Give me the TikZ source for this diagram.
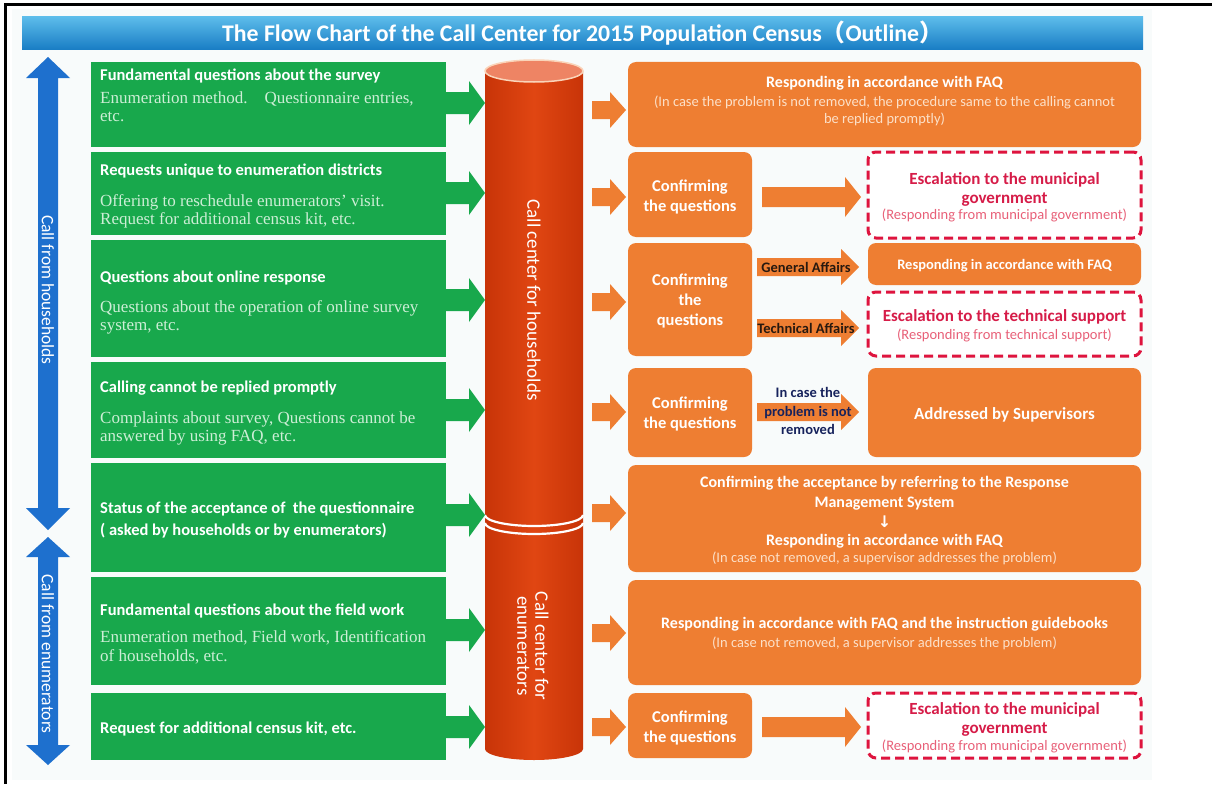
\documentclass[tikz,border=0pt]{standalone}
\usepackage{fontspec}
\setmainfont{Liberation Serif}
\newfontfamily\carl{Carlito}
\newfontfamily\cjk{Noto Sans CJK SC}
\newfontfamily\dvs{DejaVu Sans}
\usetikzlibrary{calc}
\definecolor{grn}{RGB}{24,168,76}
\definecolor{grnt}{RGB}{205,238,214}
\definecolor{org}{RGB}{238,126,50}
\definecolor{orgt}{RGB}{252,224,200}
\definecolor{dred}{RGB}{222,20,62}
\definecolor{redt}{RGB}{214,28,72}
\definecolor{redsub}{RGB}{232,96,120}
\definecolor{blu}{RGB}{30,112,206}
\definecolor{navy}{RGB}{22,34,92}
\definecolor{labc}{RGB}{40,25,15}
\definecolor{cylM}{RGB}{224,70,18}
\definecolor{cylD}{RGB}{200,52,8}
\definecolor{cylT}{RGB}{238,132,100}
\definecolor{cylE}{RGB}{250,212,185}
\definecolor{ttla}{RGB}{92,188,234}
\definecolor{ttlb}{RGB}{24,124,196}
\definecolor{bgc}{RGB}{248,251,251}
\newcommand\blockarr[6]{\fill[#1] ($(#2)+(0,#4)$) -- ($(#3)+(-#6,#4)$) -- ($(#3)+(-#6,#5)$) -- (#3) -- ($(#3)+(-#6,-#5)$) -- ($(#3)+(-#6,-#4)$) -- ($(#2)+(0,-#4)$) -- cycle;}
\begin{document}
\begin{tikzpicture}[x=1pt,y=-1pt,
  gbox/.style={fill=grn, draw=none, inner sep=0pt, outer sep=0pt, anchor=north west, minimum width=355pt},
  obox/.style={fill=org, draw=none, rounded corners=8pt, inner sep=0pt, outer sep=0pt, anchor=north west},
  rbox/.style={draw=dred, fill=white, line width=3pt, dash pattern=on 9pt off 5pt, rounded corners=8pt, inner sep=0pt, outer sep=0pt, anchor=north west},
  ghead/.style={font=\carl\bfseries\fontsize{16.5}{19}\selectfont, text=white, anchor=base west, inner sep=0pt},
  gbody/.style={font=\fontsize{17}{19}\selectfont, text=grnt, anchor=base west, inner sep=0pt},
  omain/.style={font=\carl\bfseries\fontsize{16}{19}\selectfont, text=white, anchor=base, inner sep=0pt},
  osub/.style={font=\carl\fontsize{14.5}{17}\selectfont, text=orgt, anchor=base, inner sep=0pt},
  rmain/.style={font=\carl\bfseries\fontsize{17}{20}\selectfont, text=redt, anchor=base, inner sep=0pt},
  rsub/.style={font=\carl\fontsize{14.5}{17}\selectfont, text=redsub, anchor=base, inner sep=0pt},
  cq/.style={font=\carl\bfseries\fontsize{16.5}{20}\selectfont, text=white, anchor=base, inner sep=0pt},
  lab/.style={font=\carl\bfseries\fontsize{14.5}{18}\selectfont, text=labc, anchor=base, inner sep=0pt},
  vtext/.style={font=\carl\fontsize{17.5}{20}\selectfont, text=white, rotate=-90, inner sep=0pt, align=center},
]
\useasboundingbox (0,0) rectangle (1212,784);
\fill[white] (0,0) rectangle (1212,784);
\fill[bgc] (12,9) rectangle (1152,780);
\draw[line width=3pt] (4,5) -- (1212,5);
\draw[line width=3pt] (5,4) -- (5,784);

% title
\node[minimum width=1121pt, minimum height=33pt, inner sep=0pt, top color=ttla, bottom color=ttlb, text=white,
  font=\carl\bfseries\fontsize{23.8}{26}\selectfont] (title) at (582.5,33.5)
  {The Flow Chart of the Call Center for 2015 Population Census{\cjk （}Outline{\cjk ）}};

% blue double arrows
\fill[blu] (48,57) -- (70,78) -- (58,78) -- (58,508) -- (70,508) -- (48,530) -- (26,508) -- (38,508) -- (38,78) -- (26,78) -- cycle;
\fill[blu] (48,537) -- (70,557) -- (58,557) -- (58,745) -- (70,745) -- (48,765) -- (26,745) -- (38,745) -- (38,557) -- (26,557) -- cycle;
\node[vtext] (bh) at (48,290) {Call from households};
\node[vtext] (be) at (48,654) {Call from enumerators};

% green boxes
\node[gbox, minimum height=85pt] (g1) at (91,62) {};
\node[gbox, minimum height=83pt] (g2) at (91,152) {};
\node[gbox, minimum height=117pt] (g3) at (91,240) {};
\node[gbox, minimum height=96pt] (g4) at (91,362) {};
\node[gbox, minimum height=109pt] (g5) at (91,463) {};
\node[gbox, minimum height=108pt] (g6) at (91,577) {};
\node[gbox, minimum height=67pt] (g7) at (91,693) {};

\node[ghead] (g1h) at (100,81) {Fundamental questions about the survey};
\node[gbody] (g1b) at (100,103) {Enumeration method.\hspace{1em}Questionnaire entries,};
\node[gbody] (g1c) at (100,121) {etc.};
\node[ghead] (g2h) at (100,175) {Requests unique to enumeration districts};
\node[gbody] (g2b) at (100,206) {Offering to reschedule enumerators' visit.};
\node[gbody] (g2c) at (100,224) {Request for additional census kit, etc.};
\node[ghead] (g3h) at (100,282) {Questions about online response};
\node[gbody] (g3b) at (100,312) {Questions about the operation of online survey};
\node[gbody] (g3c) at (100,330) {system, etc.};
\node[ghead] (g4h) at (100,392) {Calling cannot be replied promptly};
\node[gbody] (g4b) at (100,423) {Complaints about survey, Questions cannot be};
\node[gbody] (g4c) at (100,441) {answered by using FAQ, etc.};
\node[ghead] (g5h) at (100,513) {Status of the acceptance of\ \ the questionnaire};
\node[ghead] (g5b) at (100,535) {( asked by households or by enumerators)};
\node[ghead] (g6h) at (100,615) {Fundamental questions about the field work};
\node[gbody] (g6b) at (100,642) {Enumeration method, Field work, Identification};
\node[gbody] (g6c) at (100,661) {of households, etc.};
\node[ghead] (g7h) at (100,733) {Request for additional census kit, etc.};

% cylinder
\coordinate (cylL) at (485,71);
\coordinate (cylR) at (583,71);
\shade[left color=cylD, right color=cylD, middle color=cylM] (485,71) -- (485,749) .. controls (485,755) and (507,760) .. (534,760) .. controls (561,760) and (583,755) .. (583,749) -- (583,71) -- cycle;
\filldraw[fill=cylT, draw=cylE, line width=1.5pt] (534,71) ellipse [x radius=49, y radius=11];
\draw[white, line width=2.2pt] (485,515) .. controls (485,521) and (507,526) .. (534,526) .. controls (561,526) and (583,521) .. (583,515);
\draw[white, line width=2.2pt] (485,523) .. controls (485,529) and (507,534) .. (534,534) .. controls (561,534) and (583,529) .. (583,523);
\node[vtext, font=\carl\fontsize{19}{20}\selectfont] (cylH) at (534,300) {Call center for households};
\node[vtext, font=\carl\fontsize{19}{18}\selectfont] (cylEn) at (533,646) {Call center for\\enumerators};

% green arrows
\foreach \i/\yy in {1/103,2/193,3/300,4/410,5/515,6/630,7/727}{
  \coordinate (ga\i s) at (g\i.east |- 0,\yy);
  \coordinate (ga\i e) at (cylL |- ga\i s);
  \blockarr{grn}{ga\i s}{ga\i e}{11}{22}{16}
}

% right side boxes
\node[obox, minimum width=513pt, minimum height=85pt] (r1) at (628,62) {};
\node[obox, minimum width=124pt, minimum height=85pt] (c2) at (628,152) {};
\node[rbox, minimum width=273pt, minimum height=86pt] (e2) at (868,152) {};
\node[obox, minimum width=124pt, minimum height=113pt] (c3) at (628,243) {};
\node[obox, minimum width=273pt, minimum height=42pt] (f3) at (868,243) {};
\node[rbox, minimum width=273pt, minimum height=64pt] (t3) at (868,292) {};
\node[obox, minimum width=124pt, minimum height=89pt] (c4) at (628,368) {};
\node[obox, minimum width=273pt, minimum height=89pt] (s4) at (868,368) {};
\node[obox, minimum width=513pt, minimum height=107pt] (r5) at (628,465) {};
\node[obox, minimum width=513pt, minimum height=105pt] (r6) at (628,580) {};
\node[obox, minimum width=124pt, minimum height=65pt] (c7) at (628,693) {};
\node[rbox, minimum width=273pt, minimum height=65pt] (e7) at (868,693) {};

% orange small arrows
\foreach \i/\yy/\t in {1/110/r1,2/197/c2,3/302/c3,4/412/c4,5/513/r5,6/633/r6,7/727/c7}{
  \coordinate[xshift=9pt] (oa\i s) at (cylR |- 0,\yy);
  \coordinate[xshift=-2pt] (oa\i e) at (\t.west |- oa\i s);
  \blockarr{org}{oa\i s}{oa\i e}{9}{18}{16}
}

% middle arrows
\coordinate[xshift=10pt] (ma2s) at (c2.east |- 0,197);
\coordinate[xshift=-7pt] (ma2e) at (e2.west |- ma2s);
\blockarr{org}{ma2s}{ma2e}{10}{20}{16}
\coordinate[xshift=10pt] (ma7s) at (c7.east |- 0,727);
\coordinate[xshift=-7pt] (ma7e) at (e7.west |- ma7s);
\blockarr{org}{ma7s}{ma7e}{10}{20}{16}
\coordinate[xshift=5pt] (la3s) at (c3.east |- 0,267);
\coordinate[xshift=-9pt] (la3e) at (f3.west |- la3s);
\blockarr{org}{la3s}{la3e}{9}{18}{18}
\coordinate[xshift=5pt] (lb3s) at (c3.east |- 0,328);
\coordinate[xshift=-9pt] (lb3e) at (t3.west |- lb3s);
\blockarr{org}{lb3s}{lb3e}{9}{18}{18}
\coordinate[xshift=5pt] (la4s) at (c4.east |- 0,412);
\coordinate[xshift=-9pt] (la4e) at (s4.west |- la4s);
\blockarr{org}{la4s}{la4e}{9}{18}{18}

% texts right
\node[omain] (r1m) at (884.5,88) {Responding in accordance with FAQ};
\node[osub] (r1s) at (884.5,106) {(In case the problem is not removed, the procedure same to the calling cannot};
\node[osub] (r1t) at (884.5,123) {be replied promptly)};

\node[cq] (c2a) at (690,191) {Confirming};
\node[cq] (c2b) at (690,211) {the questions};
\node[rmain] (e2a) at (1004.5,184) {Escalation to the municipal};
\node[rmain] (e2b) at (1004.5,203) {government};
\node[rsub] (e2c) at (1004.5,219) {(Responding from municipal government)};

\node[cq] (c3a) at (690,285) {Confirming};
\node[cq] (c3b) at (690,305) {the};
\node[cq] (c3c) at (690,325) {questions};
\node[lab] (l3a) at (806,272) {General Affairs};
\node[lab] (l3b) at (806,333) {Technical Affairs};
\node[omain, font=\carl\bfseries\fontsize{14.5}{17}\selectfont] (f3a) at (1004.5,269) {Responding in accordance with FAQ};
\node[rmain] (t3a) at (1004.5,321) {Escalation to the technical support};
\node[rsub] (t3b) at (1004.5,339) {(Responding from technical support)};

\node[cq] (c4a) at (690,408) {Confirming};
\node[cq] (c4b) at (690,428) {the questions};
\node[lab, text=navy] (l4a) at (808,397) {In case the};
\node[lab, text=navy] (l4b) at (808,416) {problem is not};
\node[lab, text=navy] (l4c) at (808,434) {removed};
\node[omain, font=\carl\bfseries\fontsize{17}{20}\selectfont] (s4a) at (1004.5,419) {Addressed by Supervisors};

\node[omain] (r5a) at (884.5,487) {Confirming the acceptance by referring to the Response};
\node[omain] (r5b) at (884.5,507) {Management System};
\node[omain, font=\dvs\bfseries\fontsize{16}{17}\selectfont] (r5c) at (884.5,527) {↓};
\node[omain] (r5d) at (884.5,545) {Responding in accordance with FAQ};
\node[osub] (r5e) at (884.5,562) {(In case not removed, a supervisor addresses the problem)};

\node[omain] (r6a) at (884.5,628) {Responding in accordance with FAQ and the instruction guidebooks};
\node[osub] (r6b) at (884.5,647) {(In case not removed, a supervisor addresses the problem)};

\node[cq] (c7a) at (690,722) {Confirming};
\node[cq] (c7b) at (690,742) {the questions};
\node[rmain] (e7a) at (1004.5,714) {Escalation to the municipal};
\node[rmain] (e7b) at (1004.5,733) {government};
\node[rsub] (e7c) at (1004.5,750) {(Responding from municipal government)};
\end{tikzpicture}
\end{document}
